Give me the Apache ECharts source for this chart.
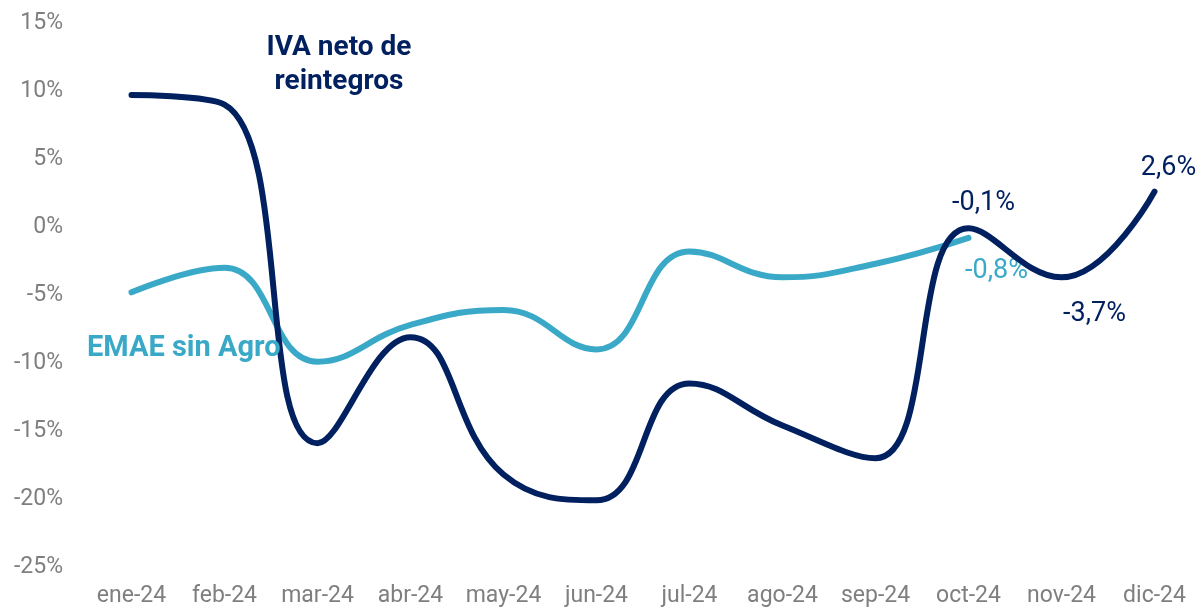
<!DOCTYPE html>
<html>
<head>
<meta charset="utf-8">
<script src="https://cdn.jsdelivr.net/npm/echarts@6/dist/echarts.min.js"></script>
<style>
html,body{margin:0;padding:0;background:#fff;}
#chart{width:1202px;height:610px;}
</style>
</head>
<body>
<div id="chart"></div>
<script>
const categories = ['ene-24','feb-24','mar-24','abr-24','may-24','jun-24','jul-24','ago-24','sep-24','oct-24','nov-24','dic-24'];
const ivaValues = [9.7, 9.0, -15.9, -8.1, -18.2, -20.1, -11.5, -14.6, -17.0, -0.1, -3.7, 2.6];
const emaeValues = [-4.8, -3.0, -9.9, -7.2, -6.1, -9.0, -1.8, -3.7, -2.7, -0.8];
const yTicks = [-25, -20, -15, -10, -5, 0, 5, 10, 15];
const ivaName = 'IVA neto de\nreintegros';
const emaeName = 'EMAE sin Agro';

const NAVY = '#00205F';
const LIGHT = '#3AA9C8';
const fmt = v => v.toFixed(1).replace('.', ',') + '%';

// label placement for the highlighted points
const ivaLabels = {
  9: {position: 'top', offset: [15, -6]},
  10: {position: 'bottom', offset: [33, 18]},
  11: {position: 'top', offset: [14, -4]}
};
const emaeLabels = {
  9: {position: 'bottom', offset: [28, 14]}
};

function buildData(values, labels, color) {
  return values.map((v, i) => {
    const item = {value: v};
    if (labels[i]) {
      item.label = Object.assign({show: true, formatter: p => fmt(p.value), color: color,
        fontSize: 27, fontFamily: 'Roboto'}, labels[i]);
    }
    return item;
  });
}

const chart = echarts.init(document.getElementById('chart'));
chart.setOption({
  animation: false,
  grid: {left: 85, right: 1, top: 23, bottom: 43},
  xAxis: {
    type: 'category',
    data: categories,
    boundaryGap: true,
    axisLine: {show: false},
    axisTick: {show: false},
    axisLabel: {color: '#7F7F7F', fontSize: 23, fontFamily: 'Roboto', margin: 18, interval: 0}
  },
  yAxis: {
    type: 'value',
    min: yTicks[0],
    max: yTicks[yTicks.length - 1],
    interval: 5,
    splitLine: {show: false},
    axisLine: {show: false},
    axisTick: {show: false},
    axisLabel: {color: '#7F7F7F', fontSize: 23, fontFamily: 'Roboto', margin: 22,
      formatter: v => v + '%'}
  },
  series: [
    {
      name: emaeName,
      type: 'line',
      data: buildData(emaeValues, emaeLabels, LIGHT),
      smooth: 0.45,
      symbol: 'circle',
      symbolSize: 1,
      showSymbol: true,
      lineStyle: {color: LIGHT, width: 6, cap: 'round'},
      itemStyle: {color: 'rgba(0,0,0,0)', borderWidth: 0},
      z: 2
    },
    {
      name: ivaName,
      type: 'line',
      data: buildData(ivaValues, ivaLabels, NAVY),
      smooth: 0.45,
      symbol: 'circle',
      symbolSize: 1,
      showSymbol: true,
      lineStyle: {color: NAVY, width: 6, cap: 'round'},
      itemStyle: {color: 'rgba(0,0,0,0)', borderWidth: 0},
      z: 3
    }
  ],
  graphic: [
    {
      type: 'text', x: 339, y: 31, z: 10,
      style: {text: ivaName, fill: NAVY, font: 'bold 28px Roboto', textAlign: 'center', lineHeight: 34}
    },
    {
      type: 'text', x: 87, y: 334, z: 10,
      style: {text: emaeName, fill: LIGHT, font: 'bold 29px Roboto'}
    }
  ]
});
</script>
</body>
</html>
